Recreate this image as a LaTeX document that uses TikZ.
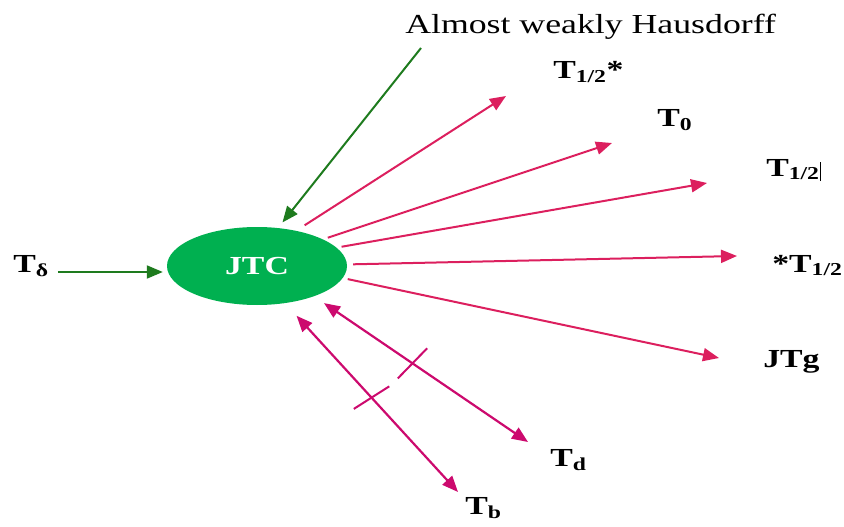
\documentclass[tikz,border=0pt]{standalone}
\usepackage{fontspec}
\setmainfont{Liberation Serif}
\usetikzlibrary{shapes.geometric, arrows.meta, positioning, calc}
\definecolor{jtcgreen}{HTML}{00B050}
\definecolor{arrowgreen}{HTML}{1E7B1E}
\definecolor{arrowpink}{HTML}{DC1F5E}
\definecolor{arrowmagenta}{HTML}{CC0A6E}

\begin{document}
\begin{tikzpicture}[
    x=1pt, y=-1pt,
    lbl/.style={font=\fontsize{26}{28}\selectfont\bfseries, xscale=1.3, inner sep=0pt, anchor=base west},
    greenarrow/.style={-{Triangle[length=16pt, width=13pt]}, line width=2pt, arrowgreen},
    pinkarrow/.style={-{Triangle[length=16pt, width=13pt]}, line width=2pt, arrowpink},
    twoway/.style={{Triangle[length=16pt, width=13pt]}-{Triangle[length=16pt, width=13pt]}, line width=2.2pt, arrowmagenta},
    tickmark/.style={draw=arrowmagenta, line width=2pt, minimum width=0pt, minimum height=42pt, inner sep=0pt, sloped, rotate=-10}
]
    \useasboundingbox (0,0) rectangle (844,527);

    % centre
    \node[ellipse, fill=jtcgreen, minimum width=180pt, minimum height=78pt, inner sep=0pt,
          text=white, font=\fontsize{26}{28}\selectfont\bfseries] (jtc) at (257,266) {\scalebox{1.3}[1]{JTC}};

    % labels
    \node[font=\fontsize{27.5}{30}\selectfont, xscale=1.3, inner sep=0pt, anchor=base west] (awh) at (405,34) {Almost weakly Hausdorff};
    \node[lbl] (tdelta) at (13,272) {T\textsubscript{δ}};
    \node[lbl] (thalfs) at (553,79) {T\textsubscript{1/2}*};
    \node[lbl] (tzero) at (657,127) {T\textsubscript{0}};
    \node[lbl] (thalfb) at (766,176) {T\textsubscript{1/2}\hspace{0.5pt}\rule[-5pt]{0.6pt}{19pt}};
    \node[lbl] (sthalf) at (772,272) {*T\textsubscript{1/2}};
    \node[lbl] (jtg) at (763,367) {JTg};
    \node[lbl] (td) at (550,466) {T\textsubscript{d}};
    \node[lbl] (tb) at (465,514) {T\textsubscript{b}};

    % free ends
    \coordinate (awstart) at (421,48);
    \coordinate (e1) at (506,96);
    \coordinate (e2) at (612,143);
    \coordinate (e3) at (707,183);
    \coordinate (e4) at (737,256);
    \coordinate (e5) at (719,358);
    \coordinate (ed) at (528,442);
    \coordinate (eb) at (458,492);

    % incoming
    \draw[greenarrow, shorten >=7pt] (awstart) -- (jtc.61);
    \draw[greenarrow, shorten <=9pt, shorten >=4pt] (tdelta.base east) -- (tdelta.base east -| jtc.west);

    % outgoing
    \draw[pinkarrow, shorten <=10pt] (jtc.42) -- (e1);
    \draw[pinkarrow, shorten <=5pt] (jtc.22) -- (e2);
    \draw[pinkarrow, shorten <=5pt] (jtc.13) -- (e3);
    \draw[pinkarrow, shorten <=6pt] (jtc.1) -- (e4);
    \draw[pinkarrow, shorten <=5pt] (jtc.-8) -- (e5);

    % both ways, crossed
    \draw[twoway, shorten <=12pt] (jtc.-28) -- (ed) node[tickmark, pos=0.46] (tickd) {};
    \draw[twoway, shorten <=17pt] (jtc.-53) -- (eb) node[tickmark, pos=0.5] (tickb) {};
\end{tikzpicture}
\end{document}
